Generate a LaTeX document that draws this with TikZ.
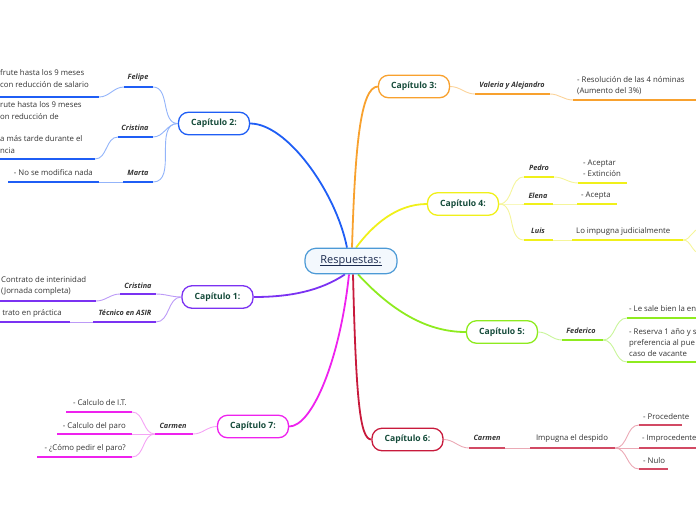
\documentclass[tikz,border=0pt]{standalone}
\usepackage{fontspec}
\setmainfont{Open Sans}
\usetikzlibrary{backgrounds}
\definecolor{cblue}{HTML}{1F5EF5}
\definecolor{lblue}{HTML}{93B4FA}
\definecolor{corange}{HTML}{F8A12E}
\definecolor{lorange}{HTML}{FBD399}
\definecolor{cyellow}{HTML}{F0F01A}
\definecolor{lyellow}{HTML}{F5F59A}
\definecolor{cpurple}{HTML}{7B32F2}
\definecolor{lpurple}{HTML}{BC9AF7}
\definecolor{cgreen}{HTML}{8EEB1F}
\definecolor{lgreen}{HTML}{C9F59A}
\definecolor{cmag}{HTML}{EE22EE}
\definecolor{lmag}{HTML}{F5A3F5}
\definecolor{cred}{HTML}{C81A3C}
\definecolor{lred}{HTML}{EBA9B5}
\definecolor{ured}{HTML}{D24A64}
\definecolor{chaptext}{HTML}{154B3A}
\definecolor{roottext}{HTML}{1B2A4E}
\definecolor{rootline}{HTML}{4C9AD6}
\definecolor{rootfill}{HTML}{F3F8FD}
\definecolor{leaftext}{HTML}{333333}
\newcommand\myunder[1]{\setbox0\hbox{#1}\rlap{\rule[-1.8pt]{\wd0}{0.8pt}}\box0}
\begin{document}
\begin{tikzpicture}[x=1pt,y=-1pt,
  chap/.style={draw=#1, line width=1.3pt, rounded corners=10pt, fill=white,
    minimum width=71pt, minimum height=22.5pt, inner sep=0pt,
    font=\fontsize{8.6}{10}\selectfont\bfseries, text=chaptext},
  rootbox/.style={draw=rootline, fill=rootfill, line width=1.2pt, rounded corners=11pt,
    minimum width=92pt, minimum height=25.5pt, inner sep=0pt,
    font=\fontsize{11}{13}\selectfont, text=roottext},
  mainedge/.style={draw=#1, line width=1.8pt},
  conn/.style={draw=#1, line width=0.9pt},
  uline/.style={draw=#1, line width=1.8pt},
  who/.style={font=\fontsize{7.3}{8.5}\selectfont\bfseries\itshape, text=leaftext, inner sep=0pt},
  leaf/.style={font=\fontsize{7.8}{11.2}\selectfont, text=leaftext, inner sep=0pt, align=left},
]
\path[use as bounding box] (0,0) rectangle (696,520);

% ---------- nodes ----------
\node[rootbox] (root) at (351,261) {\myunder{Respuestas:}};
\node[chap=cblue] (cap2) at (214,123.5) {Capítulo 2:};
\node[chap=corange] (cap3) at (414,86.5) {Capítulo 3:};
\node[chap=cyellow] (cap4) at (463,204) {Capítulo 4:};
\node[chap=cpurple] (cap1) at (217.5,297) {Capítulo 1:};
\node[chap=cgreen] (cap5) at (502,332) {Capítulo 5:};
\node[chap=cmag] (cap7) at (253,426.5) {Capítulo 7:};
\node[chap=cred] (cap6) at (407.5,439.5) {Capítulo 6:};

% Capitulo 2
\node[who] (felipe) at (138,78) {Felipe};
\coordinate (felL) at (124,87); \coordinate (felR) at (153,87);
\node[leaf, anchor=west] (felipeT) at (0,78.5) {frute hasta los 9 meses\\con reducción de salario};
\coordinate (felTL) at (-2,97); \coordinate (felTR) at (99,97);
\node[who] (cris2) at (135,128) {Cristina};
\coordinate (cris2L) at (118,137); \coordinate (cris2R) at (153,137);
\node[leaf, anchor=west, font=\fontsize{7.8}{11.3}\selectfont] (cris2T) at (0,127.5) {rute hasta los 9 meses\\on reducción de\\\mbox{}\\a más tarde durante el\\ncia};
\coordinate (cris2TL) at (-2,159); \coordinate (cris2TR) at (95,159);
\node[who] (marta) at (138,173) {Marta};
\coordinate (martaL) at (123,182); \coordinate (martaR) at (153,182);
\node[leaf, anchor=east] (martaT) at (93,173) {- No se modifica nada};
\coordinate (martaTL) at (8,182); \coordinate (martaTR) at (99,182);

% Capitulo 1
\node[who] (cris1) at (138,286) {Cristina};
\coordinate (cris1L) at (120,294); \coordinate (cris1R) at (156,294);
\node[leaf, anchor=west] (cris1T) at (1,286) {Contrato de interinidad\\(Jornada completa)};
\coordinate (cris1TL) at (-2,301); \coordinate (cris1TR) at (96,301);
\node[who] (tec) at (125,313) {Técnico en ASIR};
\coordinate (tecL) at (93,322); \coordinate (tecR) at (156,322);
\node[leaf, anchor=east] (tecT) at (62,313) {trato en práctica};
\coordinate (tecTL) at (-2,322); \coordinate (tecTR) at (70,322);

% Capitulo 7
\node[who] (carm7) at (173,426) {Carmen};
\coordinate (carm7L) at (155,434); \coordinate (carm7R) at (193,434);
\node[leaf, anchor=east] (it) at (127,403) {- Calculo de I.T.};
\coordinate (itL) at (66,412); \coordinate (itR) at (132,412);
\node[leaf, anchor=east] (paro) at (126,426) {- Calculo del paro};
\coordinate (paroL) at (57,434); \coordinate (paroR) at (132,434);
\node[leaf, anchor=east] (pedir) at (126,448) {- ¿Cómo pedir el paro?};
\coordinate (pedirL) at (37,457); \coordinate (pedirR) at (132,457);

% Capitulo 3
\node[who] (val) at (512,86) {Valeria y Alejandro};
\coordinate (valL) at (475,94); \coordinate (valR) at (550,94);
\node[leaf, anchor=west] (resol) at (577,86) {- Resolución de las 4 nóminas\\(Aumento del 3\%)};
\coordinate (resolL) at (573,100); \coordinate (resolR) at (700,100);

% Capitulo 4
\node[who] (pedro) at (539,168) {Pedro};
\coordinate (pedroL) at (524,177); \coordinate (pedroR) at (554,177);
\node[leaf, anchor=west] (pedroT) at (583,168.5) {- Aceptar\\- Extinción};
\coordinate (pedroTL) at (578,183); \coordinate (pedroTR) at (627,183);
\node[who] (elena) at (538,196) {Elena};
\coordinate (elenaL) at (524,204); \coordinate (elenaR) at (553,204);
\node[leaf, anchor=west] (elenaT) at (581,196) {- Acepta};
\coordinate (elenaTL) at (577,204); \coordinate (elenaTR) at (617,204);
\node[who] (luis) at (538,231) {Luis};
\coordinate (luisL) at (524,240); \coordinate (luisR) at (553,240);
\node[leaf, anchor=west] (luisT) at (576,231) {Lo impugna judicialmente};
\coordinate (luisTL) at (572,240); \coordinate (luisTR) at (683,240);
\coordinate (luisA) at (700,229); \coordinate (luisB) at (700,253);

% Capitulo 5
\node[who] (fed) at (581,331) {Federico};
\coordinate (fedL) at (562,340); \coordinate (fedR) at (603,340);
\node[leaf, anchor=west] (fed1) at (629,309) {- Le sale bien la en};
\coordinate (fed1L) at (627,318); \coordinate (fed1R) at (700,318);
\node[leaf, anchor=west, font=\fontsize{7.8}{10.8}\selectfont] (fed2) at (629,342.5) {- Reserva 1 año y s\\preferencia al pue\\caso de vacante};
\coordinate (fed2L) at (627,362); \coordinate (fed2R) at (700,362);

% Capitulo 6
\node[who] (carm6) at (487,438) {Carmen};
\coordinate (carm6L) at (469,448); \coordinate (carm6R) at (505,448);
\node[leaf] (imp) at (572,438) {Impugna el despido};
\coordinate (impL) at (530,448); \coordinate (impR) at (615,448);
\node[leaf, anchor=west] (proc) at (643,417) {- Procedente};
\coordinate (procL) at (639,425); \coordinate (procR) at (682,425);
\node[leaf, anchor=west, font=\fontsize{7.6}{11}\selectfont] (improc) at (642,439) {- Improcedente};
\coordinate (improcL) at (639,448); \coordinate (improcR) at (700,448);
\node[leaf, anchor=west] (nulo) at (643,461) {- Nulo};
\coordinate (nuloL) at (639,469); \coordinate (nuloR) at (668,469);

% ---------- edges ----------
\begin{scope}[on background layer]
% main edges
\draw[mainedge=cblue] ([xshift=-4pt]root.north) .. controls (336,192) and (287,123.5) .. (cap2.east);
\draw[mainedge=corange] ([xshift=1pt]root.north) .. controls (355,150) and (360,87) .. (cap3.west);
\draw[mainedge=cyellow] ([xshift=5pt]root.north) .. controls (372,226) and (396,204) .. (cap4.west);
\draw[mainedge=cpurple] ([xshift=-6pt]root.south) .. controls (320,291) and (290,297) .. (cap1.east);
\draw[mainedge=cgreen] ([xshift=7pt]root.south) .. controls (400,320) and (436,332) .. (cap5.west);
\draw[mainedge=cmag] ([xshift=-2pt]root.south) .. controls (340,360) and (312,426.5) .. (cap7.east);
\draw[mainedge=cred] ([xshift=2pt]root.south) .. controls (356,400) and (360,439.5) .. (cap6.west);

% Capitulo 2
\draw[conn=lblue] (cap2.west) to[out=180,in=0] (felR);
\draw[conn=lblue] (cap2.west) to[out=180,in=0] (cris2R);
\draw[conn=lblue] (cap2.west) to[out=180,in=0] (martaR);
\draw[conn=lblue] (felL) to[out=180,in=0] (felTR);
\draw[conn=lblue] (cris2L) to[out=180,in=0] (cris2TR);
\draw[conn=lblue] (martaL) -- (martaTR);
\draw[uline=cblue] (felL) -- (felR);
\draw[uline=cblue] (felTL) -- (felTR);
\draw[uline=cblue] (cris2L) -- (cris2R);
\draw[uline=cblue] (cris2TL) -- (cris2TR);
\draw[uline=cblue] (martaL) -- (martaR);
\draw[uline=cblue] (martaTL) -- (martaTR);

% Capitulo 1
\draw[conn=lpurple] (cap1.west) to[out=180,in=0] (cris1R);
\draw[conn=lpurple] (cap1.west) to[out=180,in=0] (tecR);
\draw[conn=lpurple] (cris1L) to[out=180,in=0] (cris1TR);
\draw[conn=lpurple] (tecL) -- (tecTR);
\draw[uline=cpurple] (cris1L) -- (cris1R);
\draw[uline=cpurple] (cris1TL) -- (cris1TR);
\draw[uline=cpurple] (tecL) -- (tecR);
\draw[uline=cpurple] (tecTL) -- (tecTR);

% Capitulo 7
\draw[conn=lmag] (cap7.west) to[out=180,in=0] (carm7R);
\draw[conn=lmag] (carm7L) to[out=180,in=0] (itR);
\draw[conn=lmag] (carm7L) -- (paroR);
\draw[conn=lmag] (carm7L) to[out=180,in=0] (pedirR);
\draw[uline=cmag] (carm7L) -- (carm7R);
\draw[uline=cmag] (itL) -- (itR);
\draw[uline=cmag] (paroL) -- (paroR);
\draw[uline=cmag] (pedirL) -- (pedirR);

% Capitulo 3
\draw[conn=lorange] (cap3.east) to[out=0,in=180] (valL);
\draw[conn=lorange] (valR) to[out=0,in=180] (resolL);
\draw[uline=corange] (valL) -- (valR);
\draw[uline=corange] (resolL) -- (resolR);

% Capitulo 4
\draw[conn=lyellow] (cap4.east) to[out=0,in=180] (pedroL);
\draw[conn=lyellow] (cap4.east) to[out=0,in=180] (elenaL);
\draw[conn=lyellow] (cap4.east) to[out=0,in=180] (luisL);
\draw[conn=lyellow] (pedroR) to[out=0,in=180] (pedroTL);
\draw[conn=lyellow] (elenaR) -- (elenaTL);
\draw[conn=lyellow] (luisR) -- (luisTL);
\draw[conn=lyellow] (luisTR) to[out=0,in=180] (luisA);
\draw[conn=lyellow] (luisTR) to[out=0,in=180] (luisB);
\draw[uline=cyellow] (pedroL) -- (pedroR);
\draw[uline=cyellow] (pedroTL) -- (pedroTR);
\draw[uline=cyellow] (elenaL) -- (elenaR);
\draw[uline=cyellow] (elenaTL) -- (elenaTR);
\draw[uline=cyellow] (luisL) -- (luisR);
\draw[uline=cyellow] (luisTL) -- (luisTR);

% Capitulo 5
\draw[conn=lgreen] (cap5.east) to[out=0,in=180] (fedL);
\draw[conn=lgreen] (fedR) to[out=0,in=180] (fed1L);
\draw[conn=lgreen] (fedR) to[out=0,in=180] (fed2L);
\draw[uline=cgreen] (fedL) -- (fedR);
\draw[uline=cgreen] (fed1L) -- (fed1R);
\draw[uline=cgreen] (fed2L) -- (fed2R);

% Capitulo 6
\draw[conn=lred] (cap6.east) to[out=0,in=180] (carm6L);
\draw[conn=lred] (carm6R) -- (impL);
\draw[conn=lred] (impR) to[out=0,in=180] (procL);
\draw[conn=lred] (impR) -- (improcL);
\draw[conn=lred] (impR) to[out=0,in=180] (nuloL);
\draw[uline=ured] (carm6L) -- (carm6R);
\draw[uline=ured] (impL) -- (impR);
\draw[uline=ured] (procL) -- (procR);
\draw[uline=ured] (improcL) -- (improcR);
\draw[uline=ured] (nuloL) -- (nuloR);
\end{scope}
\end{tikzpicture}
\end{document}
